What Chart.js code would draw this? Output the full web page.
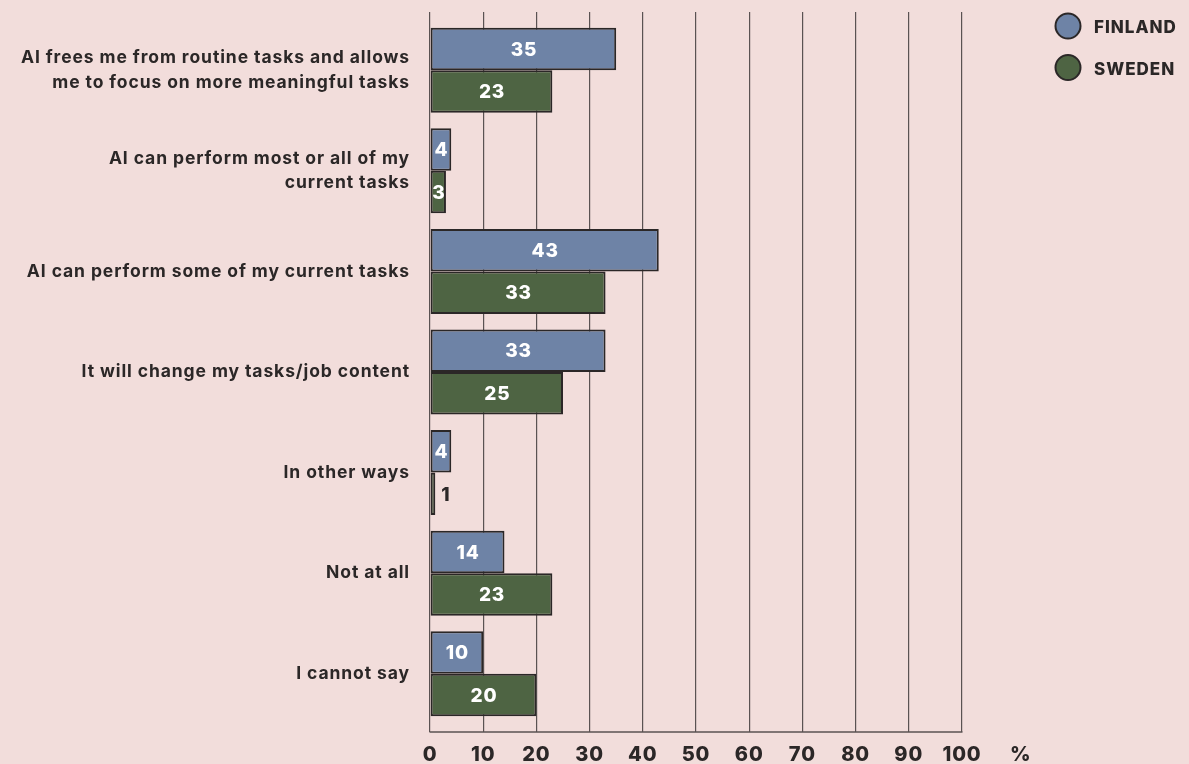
<!DOCTYPE html>
<html>
<head>
<meta charset="utf-8">
<script src="https://cdn.jsdelivr.net/npm/chart.js@4/dist/chart.umd.min.js"></script>
<style>
  html, body { margin: 0; padding: 0; background: #f2dddb; }
  #wrap { width: 1189px; height: 764px; position: relative; }
</style>
</head>
<body>
<div id="wrap"><canvas id="chart" width="1189" height="764"></canvas></div>
<script>
// Survey answers: how AI is expected to affect one's work (% of respondents)
const categories = [
  ['AI frees me from routine tasks and allows', 'me to focus on more meaningful tasks'],
  ['AI can perform most or all of my', 'current tasks'],
  'AI can perform some of my current tasks',
  'It will change my tasks/job content',
  'In other ways',
  'Not at all',
  'I cannot say'
];
const seriesNames = ['FINLAND', 'SWEDEN'];
const finland = [35, 4, 43, 33, 4, 14, 10];
const sweden = [23, 3, 33, 25, 1, 23, 20];
const xTicks = [0, 10, 20, 30, 40, 50, 60, 70, 80, 90, 100];
const unitLabel = '%';

const INK = '#2b2727';
const GRID = '#5a5252';
const FONT = 'Inter, "Open Sans", sans-serif';
const TICK_LEN = 8;
const SPACING = '0.9px';

// Slightly open tracking for all canvas text
const tracking = {
  id: 'tracking',
  beforeDraw(chart) { chart.ctx.letterSpacing = SPACING; },
  afterDraw(chart) { chart.ctx.letterSpacing = '0px'; }
};

// Value numbers on the bars: white inside wide bars, dark beside narrow ones
const barValues = {
  id: 'barValues',
  afterDatasetsDraw(chart) {
    const ctx = chart.ctx;
    ctx.save();
    ctx.letterSpacing = '0.8px';
    ctx.font = '800 19px ' + FONT;
    ctx.textBaseline = 'middle';
    chart.data.datasets.forEach((ds, di) => {
      const meta = chart.getDatasetMeta(di);
      meta.data.forEach((bar, i) => {
        const v = ds.data[i];
        const p = bar.getProps(['x', 'y', 'base'], true);
        if (v >= 3) {
          ctx.fillStyle = '#ffffff';
          ctx.textAlign = 'center';
          ctx.fillText(String(v), (p.x + p.base) / 2 + 0.5, p.y + 1);
        } else {
          ctx.fillStyle = INK;
          ctx.textAlign = 'left';
          ctx.fillText(String(v), p.x + 6, p.y + 1);
        }
      });
    });
    ctx.restore();
  }
};

// Closing line under the tick marks, and the unit sign after the last tick
const axisExtras = {
  id: 'axisExtras',
  afterDraw(chart) {
    const ctx = chart.ctx;
    const xs = chart.scales.x;
    const yLine = chart.chartArea.bottom + TICK_LEN;
    ctx.save();
    ctx.strokeStyle = GRID;
    ctx.lineWidth = 1.5;
    ctx.beginPath();
    ctx.moveTo(xs.left - 0.5, yLine);
    ctx.lineTo(xs.right + 0.5, yLine);
    ctx.stroke();
    ctx.fillStyle = INK;
    ctx.font = '800 20px ' + FONT;
    ctx.textAlign = 'left';
    ctx.textBaseline = 'middle';
    ctx.fillText(unitLabel, xs.getPixelForValue(xTicks[xTicks.length - 1]) + 48, yLine + 23);
    ctx.restore();
  }
};

// Legend: outlined circles with the country names, top right
const circleLegend = {
  id: 'circleLegend',
  afterDraw(chart) {
    const ctx = chart.ctx;
    const cx = chart.chartArea.right + 106;
    ctx.save();
    chart.data.datasets.forEach((ds, i) => {
      const cy = 26 + i * 41.5;
      ctx.beginPath();
      ctx.arc(cx, cy, 12.5, 0, Math.PI * 2);
      ctx.fillStyle = ds.backgroundColor;
      ctx.fill();
      ctx.lineWidth = 2;
      ctx.strokeStyle = INK;
      ctx.stroke();
      ctx.fillStyle = INK;
      ctx.font = '800 17px ' + FONT;
      ctx.letterSpacing = '1px';
      ctx.textAlign = 'left';
      ctx.textBaseline = 'middle';
      ctx.fillText(ds.label, cx + 26, cy + 2);
    });
    ctx.restore();
  }
};

new Chart(document.getElementById('chart'), {
  type: 'bar',
  data: {
    labels: categories,
    datasets: [
      {
        label: seriesNames[0],
        data: finland,
        backgroundColor: '#6e83a6',
        borderColor: INK,
        borderWidth: 2,
        borderSkipped: false,
        categoryPercentage: 0.845,
        barPercentage: 1
      },
      {
        label: seriesNames[1],
        data: sweden,
        backgroundColor: '#4e6443',
        borderColor: INK,
        borderWidth: 2,
        borderSkipped: false,
        categoryPercentage: 0.845,
        barPercentage: 1
      }
    ]
  },
  options: {
    indexAxis: 'y',
    responsive: false,
    animation: false,
    devicePixelRatio: 1,
    layout: { padding: { top: 12, right: 227, bottom: 0, left: 0 } },
    plugins: {
      legend: { display: false },
      tooltip: { enabled: false }
    },
    scales: {
      x: {
        type: 'linear',
        position: 'bottom',
        min: 0,
        max: 100,
        afterBuildTicks(scale) { scale.ticks = xTicks.map(v => ({ value: v })); },
        afterFit(scale) { scale.height = 40; },
        grid: { color: GRID, lineWidth: 1.2, tickLength: TICK_LEN, drawTicks: true },
        border: { display: false },
        ticks: {
          color: INK,
          font: { family: FONT, size: 20, weight: 800, lineHeight: 1.0 },
          padding: 13,
          maxRotation: 0
        }
      },
      xTop: {
        type: 'linear',
        position: 'top',
        min: 0,
        max: 100,
        afterBuildTicks(scale) { scale.ticks = xTicks.map(v => ({ value: v })); },
        afterFit(scale) { scale.height = TICK_LEN; },
        grid: { color: GRID, lineWidth: 1.2, tickLength: TICK_LEN, drawOnChartArea: false, drawTicks: true },
        border: { display: false },
        ticks: { display: false }
      },
      y: {
        type: 'category',
        position: 'left',
        afterFit(scale) {
          scale.width = 430;
          scale.paddingTop = 0;
          scale.paddingBottom = 0;
        },
        grid: { display: false, drawTicks: false },
        border: { display: false },
        ticks: {
          color: INK,
          font: { family: FONT, size: 17.5, weight: 700, lineHeight: 1.38 },
          padding: 20,
          autoSkip: false
        }
      }
    }
  },
  plugins: [tracking, barValues, axisExtras, circleLegend]
});
</script>
</body>
</html>
